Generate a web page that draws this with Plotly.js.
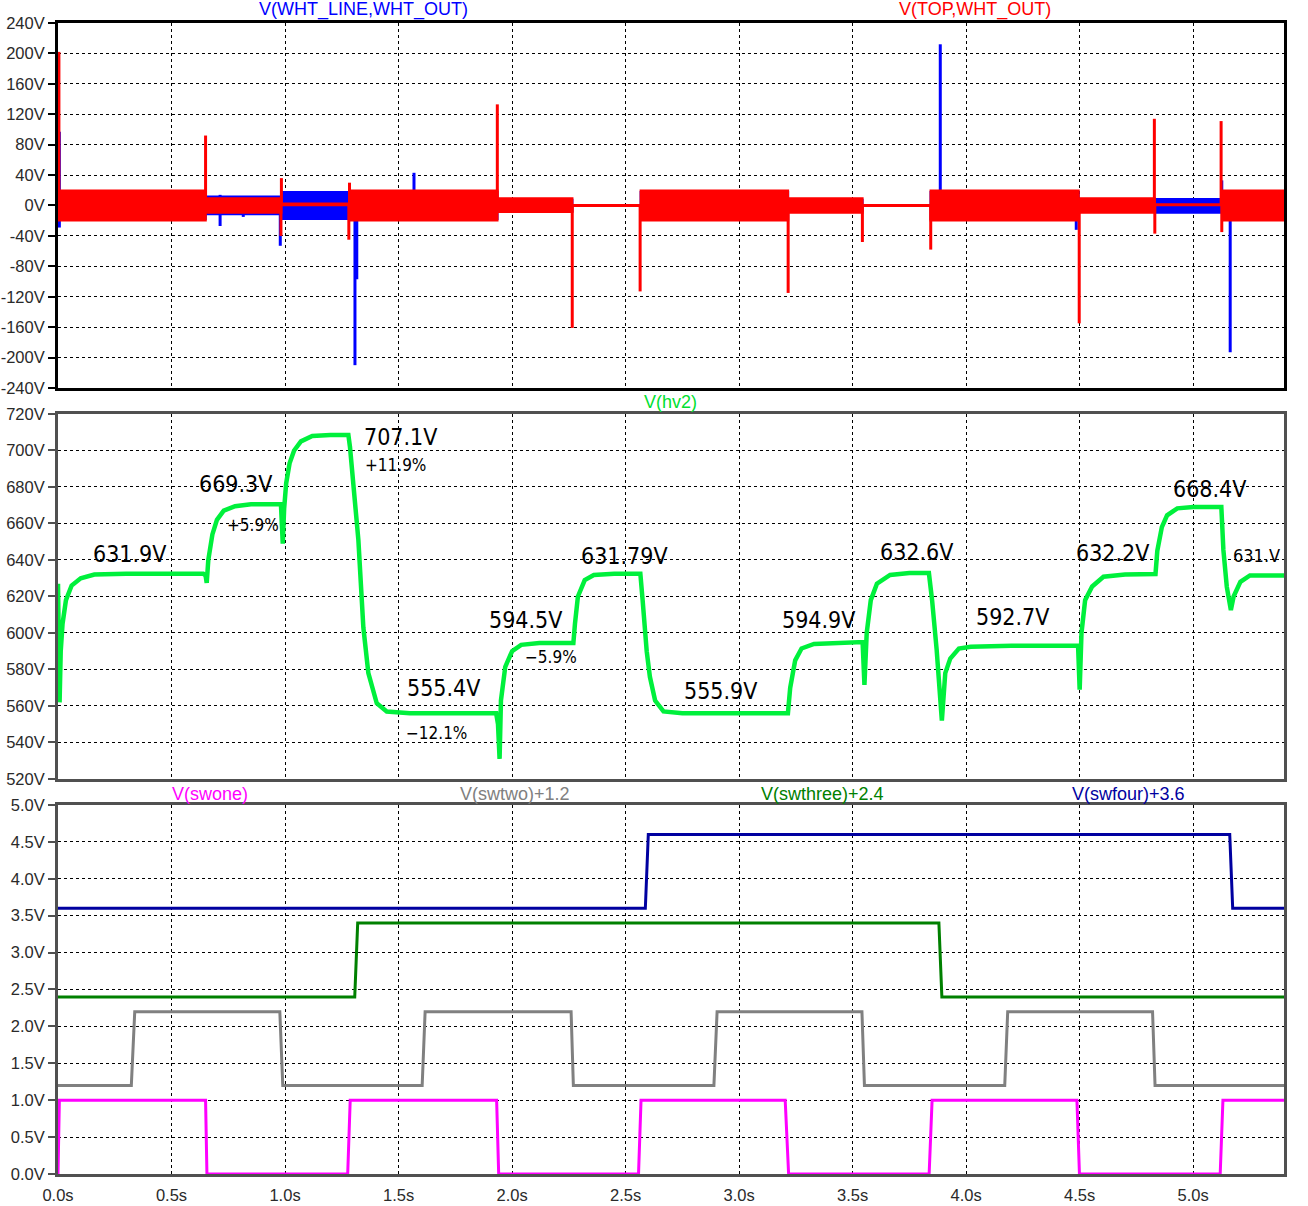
<!DOCTYPE html>
<html><head><meta charset="utf-8">
<script src="https://cdn.plot.ly/plotly-3.0.1.min.js"></script>
<style>body{margin:0;background:#fff}#chart{width:1308px;height:1206px}</style>
</head><body><div id="chart"></div>
<script>
// ---------------- Panel 1: V(WHT_LINE,WHT_OUT) (blue) and V(TOP,WHT_OUT) (red) ----------------
// oscillation envelope per time segment (s)
const segStart = [0.000, 0.652, 0.985, 1.285, 1.937, 2.267, 2.565, 3.217, 3.545, 3.842, 4.497, 4.832, 5.126];
const segEnd   = [0.652, 0.985, 1.285, 1.937, 2.267, 2.565, 3.217, 3.545, 3.842, 4.497, 4.832, 5.126, 5.400];
const redHi    = [20, 10, 3, 20, 10, 1, 20, 10, 1, 20, 10, 2, 20];
const redLo    = [-20, -10, 0, -20, -9, -1, -20, -10, -1, -20, -10, 0, -20];
const blueHi   = [18, 12, 18, 18, 8, 1, 18, 8, 0.5, 18, 8, 9, 18];
const blueLo   = [-18, -12, -18, -18, -8, -1, -18, -8, -0.5, -18, -8, -10, -18];
// transient spikes
const redSpikeT  = [0.004, 0.650, 0.984, 0.982, 1.284, 1.281, 1.935, 2.265, 2.564, 3.216, 3.543, 3.844, 4.498, 4.829, 4.831, 5.123, 5.126];
const redSpikeV  = [202, 92, 36, -40, 30, -45, 133, -161, -113, -115, -48, -58, -155, 114, -37, 111, -35];
const blueSpikeT = [0.006, 0.006, 0.714, 0.714, 0.816, 0.979, 1.308, 1.316, 1.568, 3.886, 4.485, 5.126, 5.163];
const blueSpikeV = [97, -29, 14, -27, -15, -53, -210, -97, 43, 212, -32, 33, -193];

// ---------------- Panel 2: V(hv2) ----------------
const hv2T = [0.000,0.004,0.007,0.012,0.020,0.035,0.060,0.100,0.160,0.300,0.640,0.650,0.655,0.662,0.680,0.700,0.730,0.780,0.850,0.982,0.990,0.996,1.005,1.020,1.040,1.070,1.120,1.200,1.279,1.286,1.323,1.345,1.367,1.404,1.448,1.550,1.930,1.938,1.945,1.951,1.970,2.000,2.040,2.120,2.270,2.277,2.290,2.320,2.360,2.450,2.565,2.575,2.593,2.607,2.630,2.667,2.750,3.215,3.225,3.247,3.275,3.330,3.544,3.552,3.562,3.580,3.607,3.665,3.750,3.836,3.850,3.870,3.893,3.908,3.930,3.968,4.020,4.200,4.493,4.500,4.508,4.524,4.555,4.605,4.700,4.834,4.842,4.862,4.885,4.930,5.000,5.124,5.133,5.148,5.166,5.178,5.208,5.250,5.400];
const hv2V = [627,600,562,590,605,618,626,630,632,632.5,632.5,631.5,627.5,640,654,662,667,669.5,670.5,670.5,649,668,682,693,700,705,708,708.5,708.5,702,651,603,578,561.5,557,556,556,550,531,563,581.5,590,593.5,594.5,594.5,605,620,629,631.8,632.5,632.5,618,590,576,563,557,556,556,570,585,591.5,594,595,571.5,600,618,627,631.8,632.8,632.8,618,591,552,578,586,591.5,592.5,593,593,569,600,618,625.5,630.8,632,632.3,645,658,664.5,668.3,669,669,645.5,625.3,612.6,620,628,631.5,631.5];
const hv2Labels = ['631.9V','669.3V','+5.9%','707.1V','+11.9%','555.4V','\u221212.1%','594.5V','\u22125.9%','631.79V','555.9V','594.9V','632.6V','592.7V','632.2V','668.4V','631.V'];

// ---------------- Panel 3: switch signals (0/1 logic) ----------------
const swoneT   = [0, 0.006, 0.650, 0.656, 1.276, 1.287, 1.932, 1.941, 2.557, 2.568, 3.203, 3.218, 3.837, 3.850, 4.488, 4.499, 5.119, 5.131, 5.4];
const swoneV   = [0, 1, 1, 0, 0, 1, 1, 0, 0, 1, 1, 0, 0, 1, 1, 0, 0, 1, 1];
const swtwoT   = [0, 0.323, 0.338, 0.977, 0.990, 1.604, 1.617, 2.260, 2.270, 2.889, 2.903, 3.541, 3.552, 4.170, 4.183, 4.821, 4.832, 5.4];
const swtwoV   = [0, 0, 1, 1, 0, 0, 1, 1, 0, 0, 1, 1, 0, 0, 1, 1, 0, 0];
const swthreeT = [0, 1.307, 1.320, 3.880, 3.893, 5.4];
const swthreeV = [0, 0, 1, 1, 0, 0];
const swfourT  = [0, 2.587, 2.600, 5.161, 5.174, 5.4];
const swfourV  = [0, 0, 1, 1, 0, 0];
const swOffsets = {two: 1.2, three: 2.4, four: 3.6};

// ---------------- tick labels ----------------
const xTickVals = [0,0.5,1,1.5,2,2.5,3,3.5,4,4.5,5];
const xTickText = ['0.0s','0.5s','1.0s','1.5s','2.0s','2.5s','3.0s','3.5s','4.0s','4.5s','5.0s'];
const y1TickVals = [240,200,160,120,80,40,0,-40,-80,-120,-160,-200,-240];
const y1TickText = ['240V','200V','160V','120V','80V','40V','0V','-40V','-80V','-120V','-160V','-200V','-240V'];
const y2TickVals = [720,700,680,660,640,620,600,580,560,540,520];
const y2TickText = ['720V','700V','680V','660V','640V','620V','600V','580V','560V','540V','520V'];
const y3TickVals = [5,4.5,4,3.5,3,2.5,2,1.5,1,0.5,0];
const y3TickText = ['5.0V','4.5V','4.0V','3.5V','3.0V','2.5V','2.0V','1.5V','1.0V','0.5V','0.0V'];

// ---------------- build traces ----------------
function envelope(hi, lo) {
  const x = [], y = [];
  for (let i = 0; i < segStart.length; i++) { x.push(segStart[i], segEnd[i]); y.push(hi[i], hi[i]); }
  for (let i = segStart.length - 1; i >= 0; i--) { x.push(segEnd[i], segStart[i]); y.push(lo[i], lo[i]); }
  x.push(x[0]); y.push(y[0]);
  return {x, y};
}
function spikes(T, V) {
  const x = [], y = [];
  for (let i = 0; i < T.length; i++) { x.push(T[i], T[i], null); y.push(0, V[i], null); }
  return {x, y};
}
const RED = '#ff0000', BLUE = '#0000ff';
const bEnv = envelope(blueHi, blueLo), rEnv = envelope(redHi, redLo);
const bSp = spikes(blueSpikeT, blueSpikeV), rSp = spikes(redSpikeT, redSpikeV);
const traces = [
  {x: bEnv.x, y: bEnv.y, xaxis: 'x3', yaxis: 'y', mode: 'lines', fill: 'toself', fillcolor: BLUE, line: {color: BLUE, width: 1.5}, hoverinfo: 'skip'},
  {x: bSp.x, y: bSp.y, xaxis: 'x3', yaxis: 'y', mode: 'lines', line: {color: BLUE, width: 3}, connectgaps: false},
  {x: rEnv.x, y: rEnv.y, xaxis: 'x3', yaxis: 'y', mode: 'lines', fill: 'toself', fillcolor: RED, line: {color: RED, width: 1.5}, hoverinfo: 'skip'},
  {x: rSp.x, y: rSp.y, xaxis: 'x3', yaxis: 'y', mode: 'lines', line: {color: RED, width: 3}, connectgaps: false},
  {x: hv2T, y: hv2V, xaxis: 'x2', yaxis: 'y2', mode: 'lines', line: {color: '#00f03c', width: 4.5}},
  {x: swoneT, y: swoneV, xaxis: 'x', yaxis: 'y3', mode: 'lines', line: {color: '#ff00ff', width: 3}},
  {x: swtwoT, y: swtwoV.map(v => v + swOffsets.two), xaxis: 'x', yaxis: 'y3', mode: 'lines', line: {color: '#808080', width: 3}},
  {x: swthreeT, y: swthreeV.map(v => v + swOffsets.three), xaxis: 'x', yaxis: 'y3', mode: 'lines', line: {color: '#008000', width: 3}},
  {x: swfourT, y: swfourV.map(v => v + swOffsets.four), xaxis: 'x', yaxis: 'y3', mode: 'lines', line: {color: '#0000a0', width: 3}}
];

// ---------------- layout ----------------
const TICKFONT = {family: 'Liberation Sans, Arial, sans-serif', size: 16.5, color: '#2a2a2a'};
const GRID = {showgrid: true, gridcolor: '#000', gridwidth: 1, griddash: '3px,3px', zeroline: false};
function xAx(anchor, labels, lc) {
  return Object.assign({}, GRID, {anchor: anchor, domain: [0, 1], range: [0, 5.4], tickmode: 'array',
    tickvals: xTickVals, ticktext: xTickText, showticklabels: labels, tickfont: TICKFONT,
    ticks: labels ? 'outside' : '', ticklen: 4, tickcolor: 'rgba(0,0,0,0)',
    showline: true, mirror: true, linecolor: lc, linewidth: 3, fixedrange: true});
}
function yAx(anchor, dom, rng, tv, tt, lc) {
  return Object.assign({}, GRID, {anchor: anchor, domain: dom, range: rng, tickmode: 'array',
    tickvals: tv, ticktext: tt, tickfont: TICKFONT, ticks: 'outside', ticklen: 7, tickwidth: 2, tickcolor: lc,
    showline: true, mirror: true, linecolor: lc, linewidth: 3, fixedrange: true});
}
const TF = 'Liberation Sans, Arial, sans-serif';
const LF = 'DejaVu Sans Condensed, DejaVu Sans, sans-serif';
function title(t, yp, text, color) {
  return {x: t, xref: 'x', y: yp, yref: 'paper', text: text, showarrow: false, xanchor: 'center', yanchor: 'middle',
    font: {family: TF, size: 18, color: color}};
}
// label placement (time, volts, font size) for hv2Labels
const labelPos = [[0.316,643.3,23],[0.783,681.8,23],[0.861,659.2,17],[1.507,707.6,23],[1.488,691.8,17],
  [1.700,569.7,23],[1.665,545.2,17],[2.061,607.1,23],[2.171,587.0,17],[2.494,642.3,23],[2.920,568.3,23],
  [3.349,607.1,23],[3.782,644.5,23],[4.203,608.9,23],[4.645,643.7,23],[5.070,678.9,23],[5.281,642.6,18]];
const annotations = [
  title(1.344, 1.0115, 'V(WHT_LINE,WHT_OUT)', BLUE),
  title(4.040, 1.0115, 'V(TOP,WHT_OUT)', RED),
  {x: 2.696, xref: 'x2', y: 0.6707, yref: 'paper', text: 'V(hv2)', showarrow: false, xanchor: 'center', yanchor: 'middle', font: {family: TF, size: 18, color: '#00e030'}},
  title(0.670, 0.3301, 'V(swone)', '#ff00ff'),
  title(2.013, 0.3301, 'V(swtwo)+1.2', '#808080'),
  title(3.366, 0.3301, 'V(swthree)+2.4', '#008000'),
  title(4.714, 0.3301, 'V(swfour)+3.6', '#0000a0')
];
hv2Labels.forEach((s, i) => {
  annotations.push({x: labelPos[i][0], xref: 'x2', y: labelPos[i][1], yref: 'y2', text: s, showarrow: false,
    xanchor: 'center', yanchor: 'middle', font: {family: LF, size: labelPos[i][2], color: '#000'}});
});

const layout = {
  width: 1308, height: 1206,
  margin: {l: 58, r: 24, t: 23, b: 32, pad: 0},
  paper_bgcolor: '#fff', plot_bgcolor: '#fff',
  showlegend: false,
  xaxis: xAx('y3', true, '#505050'),
  xaxis2: Object.assign(xAx('y2', false, '#505050'), {matches: 'x'}),
  xaxis3: Object.assign(xAx('y', false, '#000'), {matches: 'x'}),
  yaxis: yAx('x3', [0.6829, 1], [-240, 240], y1TickVals, y1TickText, '#000'),
  yaxis2: yAx('x2', [0.3432, 0.6603], [520, 720], y2TickVals, y2TickText, '#505050'),
  yaxis3: yAx('x', [0, 0.3206], [0, 5], y3TickVals, y3TickText, '#505050'),
  annotations: annotations
};
Plotly.newPlot('chart', traces, layout, {displayModeBar: false, staticPlot: true});
</script></body></html>
